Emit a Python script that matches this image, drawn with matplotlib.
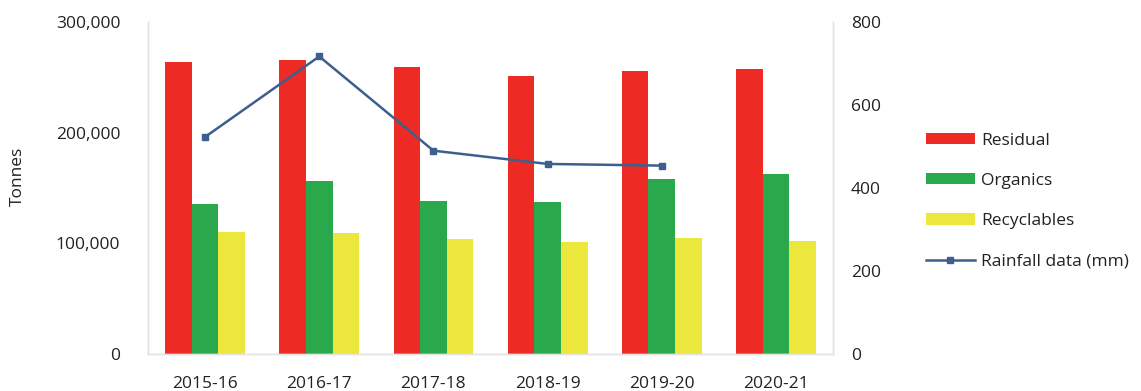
import matplotlib
matplotlib.use("Agg")
import matplotlib.pyplot as plt
import numpy as np
from matplotlib.ticker import FuncFormatter

plt.rcParams['font.family'] = ['Open Sans', 'DejaVu Sans']

years = ['2015-16', '2016-17', '2017-18', '2018-19', '2019-20', '2020-21']
residual = [264000, 265500, 259500, 251000, 255500, 257500]
organics = [135500, 156500, 138000, 137000, 158500, 162500]
recyclables = [110500, 109500, 104000, 101500, 104500, 102500]
rainfall = [523, 717, 490, 458, 454, np.nan]

RED = '#ee2a24'
GREEN = '#2aa84c'
YELLOW = '#ece73c'
BLUE = '#3d5f8e'
SPINE = '#e3e3e3'
TEXT = '#222222'

fig = plt.figure(figsize=(11.41, 3.91), dpi=100)
ax = fig.add_axes([0.1297, 0.0946, 0.6004, 0.8491])
ax2 = ax.twinx()

x = np.arange(len(years))
w = 0.233
b1 = ax.bar(x - w, residual, w, color=RED, label='Residual')
b2 = ax.bar(x, organics, w, color=GREEN, label='Organics')
b3 = ax.bar(x + w, recyclables, w, color=YELLOW, label='Recyclables')

ln, = ax2.plot(x, rainfall, color=BLUE, lw=1.8, marker='s', ms=4.5,
               label='Rainfall data (mm)')

ax.set_xlim(-0.5, len(years) - 0.5)
ax.set_ylim(0, 300000)
ax.set_yticks([0, 100000, 200000, 300000])
ax.yaxis.set_major_formatter(FuncFormatter(lambda v, _: f'{int(v):,}'))
ax2.set_ylim(0, 800)
ax2.set_yticks([0, 200, 400, 600, 800])

ax.set_xticks(x)
ax.set_xticklabels(years)
ax.set_ylabel('Tonnes', fontsize=12.5, color=TEXT)
ax.yaxis.set_label_coords(-0.178, 0.535)

for a in (ax, ax2):
    a.tick_params(length=0, labelsize=12.5, colors=TEXT)
    a.spines['top'].set_visible(False)
    for s in ('left', 'right', 'bottom'):
        a.spines[s].set_color(SPINE)
        a.spines[s].set_linewidth(1.0)
ax.tick_params(axis='x', pad=16)
ax.tick_params(axis='y', pad=20)
ax2.tick_params(axis='y', pad=13)

fig.legend([b1, b2, b3, ln], [h.get_label() for h in (b1, b2, b3, ln)],
           loc='center left', bbox_to_anchor=(0.798, 0.486),
           frameon=False, fontsize=12.5, handlelength=2.8,
           handleheight=0.6, labelspacing=1.4, handletextpad=0.35,
           labelcolor=TEXT)

fig.savefig('out.png', dpi=100, facecolor='white')
